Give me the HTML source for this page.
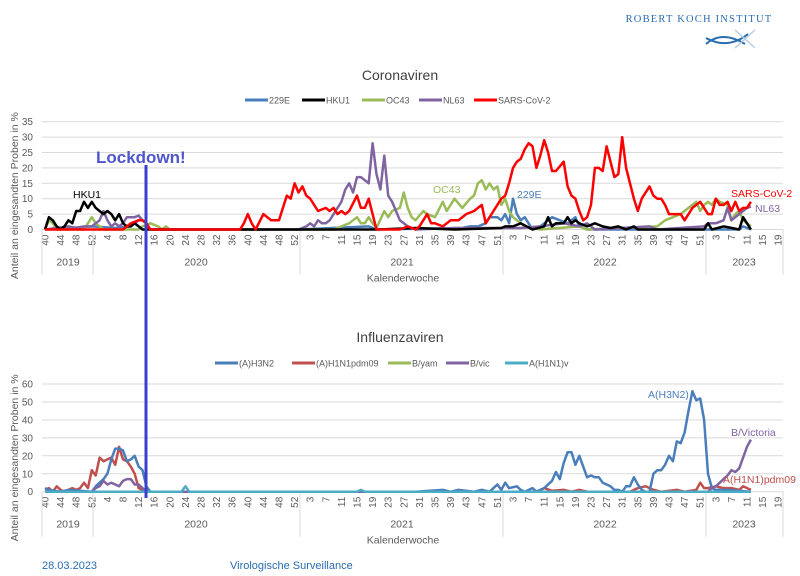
<!DOCTYPE html>
<html><head><meta charset="utf-8"><style>
html,body{margin:0;padding:0;background:#fff;}
svg{display:block;font-family:"Liberation Sans",sans-serif;}
</style></head><body>
<svg id="s" width="800" height="576" viewBox="0 0 800 576" xmlns="http://www.w3.org/2000/svg">
<text x="699" y="22" font-family="Liberation Serif,serif" font-size="10.5" fill="#2a6db0" text-anchor="middle" letter-spacing="1.2">ROBERT KOCH INSTITUT</text>
<path d="M706 44 Q722 30 745 44 M706 38 Q728 50 748 34" stroke="#2a6db0" stroke-width="2" fill="none"/>
<path d="M735 30 L755 48 M735 48 L755 30" stroke="#b8cde6" stroke-width="1.5"/>
<text x="400" y="80" font-size="14" fill="#404040" text-anchor="middle">Coronaviren</text>
<text x="400" y="342" font-size="14" fill="#404040" text-anchor="middle">Influenzaviren</text>
<g id="g"></g>
<text x="42" y="569" font-size="11" fill="#2a6db0">28.03.2023</text>
<text x="230" y="569" font-size="11" fill="#2a6db0">Virologische Surveillance</text>
</svg>
<script>
const NS="http://www.w3.org/2000/svg",G=document.getElementById('g');
function el(t,a,txt){const e=document.createElementNS(NS,t);for(const k in a)e.setAttribute(k,a[k]);if(txt!=null)e.textContent=txt;G.appendChild(e);return e;}
const off={2019:-40,2020:12,2021:65,2022:117,2023:169};
const X=i=>45+i*3.9;
const W=(y,w)=>off[y]+w;
function axes(y0,scale,max,step,yTickLbl,legY,legend){
  for(let v=0;v<=max;v+=step){const y=y0-v*scale;
    el('line',{x1:42,x2:783,y1:y,y2:y,stroke:'#d9d9d9','stroke-width':1});
    el('text',{x:33,y:y+3.5,'font-size':10,fill:'#595959','text-anchor':'end'},v);}
  const labs=[];
  [40,44,48,52].forEach(w=>labs.push(W(2019,w)));
  for(let w=4;w<=52;w+=4)labs.push([W(2020,w),w]);
  const L=[];[40,44,48,52].forEach(w=>L.push([W(2019,w),w]));
  for(let w=4;w<=52;w+=4)L.push([W(2020,w),w]);
  for(const yr of [2021,2022])for(let w=3;w<=51;w+=4)L.push([W(yr,w),w]);
  for(let w=3;w<=19;w+=4)L.push([W(2023,w),w]);
  L.forEach(([i,w])=>{const x=X(i)+3.5;el('text',{x:0,y:0,'font-size':10,fill:'#595959','text-anchor':'end',transform:`translate(${x},${y0+5}) rotate(-90)`},w);});
  [42,93,300,503,706,783].forEach(x=>el('line',{x1:x,x2:x,y1:y0,y2:y0+45,stroke:'#d9d9d9'}));
  [[68,'2019'],[196,'2020'],[402,'2021'],[605,'2022'],[744,'2023']].forEach(([x,t])=>el('text',{x:x,y:y0+36,'font-size':10.5,fill:'#595959','text-anchor':'middle'},t));
  el('text',{x:403,y:y0+52,'font-size':10.5,fill:'#595959','text-anchor':'middle'},'Kalenderwoche');
  el('text',{x:0,y:0,'font-size':10.5,fill:'#595959','text-anchor':'middle',transform:`translate(18,${y0-max*scale/2+20}) rotate(-90)`},'Anteil an eingesandten Proben in %');
  legend.forEach(([x,c,t])=>{el('line',{x1:x,x2:x+23,y1:legY,y2:legY,stroke:c,'stroke-width':3});el('text',{x:x+24,y:legY+3.5,'font-size':9,fill:'#595959'},t);});
}
function series(y0,scale,pts,c,w){
  let d='';pts.forEach(([y,wk,v],k)=>{d+=(k?'L':'M')+X(W(y,wk)).toFixed(1)+' '+(y0-v*scale).toFixed(1);});
  el('path',{d:d,stroke:c,'stroke-width':w||2.5,fill:'none','stroke-linejoin':'round'});
}
function P(y,arr){const r=[];for(let k=0;k<arr.length;k+=2)r.push([y,arr[k],arr[k+1]]);return r;}
// TOP
const T0=229.5,TS=3.08;
axes(T0,TS,35,5,1,100,[[245,'#4a7ebb','229E'],[302,'#000','HKU1'],[362,'#9bbb59','OC43'],[419,'#8064a2','NL63'],[474,'#ff0000','SARS-CoV-2']]);
const blue=[...P(2019,[40,0,46,0.5,52,1]),...P(2020,[6,0.5,10,1,12,3,13,3,14,2,15,0,53,0]),...P(2021,[18,1,20,0,42,0.5,44,1,46,1,48,2,49,4,51,4,52,3]),...P(2022,[1,5,2,2,3,10,4,5,5,3,6,4,7,2,8,0,10,1,12,3,13,4,15,3,17,2,19,4,20,1,22,0,52,0]),...P(2023,[1,0,9,0,10,1,12,0])];
const green=[...P(2019,[40,0,41,3,42,2,43,0,50,0,52,4]),...P(2020,[1,2,2,1,3,0,12,0,13,1,15,2,17,1,18,0,19,1,20,0,53,0]),...P(2021,[9,0,11,1,13,2,15,4,16,2,17,2,18,4,19,2,20,0.5,22,6,23,4,24,6,26,7,27,12,28,7,29,4,30,3,32,6,33,5,35,4,37,9,38,6,40,10,42,7,44,10,45,11,46,15,47,16,48,13,49,15,50,13,51,14,52,8]),...P(2022,[1,10,2,6,3,4,4,3,6,1,8,0.5,10,0,20,1,22,0,40,1,42,3,44,4,46,5,48,7,50,9,51,6,52,8]),...P(2023,[1,9,2,8,3,10,4,9,6,8,7,3,8,5,9,6,10,3,11,2,12,1])];
const purple=[...P(2019,[40,0,46,1,48,0.5,50,1,52,1]),...P(2020,[2,3,3,6,4,3,5,1,6,2,7,1,8,2,9,4,10,4,11,4,12,4.5,13,3,14,2,15,0,53,0]),...P(2021,[2,1,3,2,4,1,5,3,6,2,7,2,8,3,9,5,10,7,11,9,12,13,13,15,14,12,15,17,16,17,17,16,18,15,19,28,20,18,21,13,22,24,23,11,24,9,25,6,26,3,27,2,28,1,30,0,40,0.5,52,0.5]),...P(2022,[5,0.5,10,1,16,2,20,1,22,2,24,0,38,1,40,0,52,1]),...P(2023,[1,2,3,2,5,3,6,7,7,3,8,4,9,5,10,6,11,7,12,7.5])];
const black=[...P(2019,[40,0,41,4,42,3,43,1,44,0,45,1,46,3,47,2,48,6,49,6,50,9,51,7,52,9]),...P(2020,[1,7,2,6,3,5,4,6,5,5,6,3,7,5,8,2,9,1,10,1,11,2,12,1,13,0,53,0]),...P(2021,[20,0,30,0.5,40,0,52,0.5]),...P(2022,[1,1,3,1,5,2,8,0,11,1,12,4,13,1,14,2,16,2,17,4,18,2,19,3,20,2,22,1,24,2,26,1,28,0.5,30,1,32,0,34,1,35,0,52,0]),...P(2023,[1,2,2,0,5,1,9,0,10,4,11,2,12,0])];
const red=[...P(2019,[40,0,52,0]),...P(2020,[8,0,10,2,12,3,13,3,14,2,15,0,38,0,39,2,40,5,41,2,42,0,44,5,46,3,48,3,50,11,51,10,52,15,53,12]),...P(2021,[1,14,2,11,3,10,5,6,7,7,8,6,9,7,10,5,11,6,12,5,13,6,15,11,16,7,17,7,18,10,19,5,20,0,26,0,28,1,30,0,31,1,33,5,34,2,35,2,37,1,39,3,41,3,43,5,45,6,47,8,48,2,50,6,52,10]),...P(2022,[1,11,2,15,3,20,4,22,5,23,6,26,7,28,8,27,9,20,10,24,11,29,12,25,13,19,14,19,16,22,17,14,18,11,19,10,20,6,21,3,22,4,23,8,24,20,25,20,26,19,27,27,28,22,29,17,30,18,31,30,32,20,33,15,34,10,35,6,36,10,38,14,39,11,40,10,41,10,42,8,43,5,45,5,46,5,47,3,49,7,51,9,52,7]),...P(2023,[1,5,2,5,3,10,4,8,5,8,6,9,7,6,8,9,9,6,10,7,11,7,12,9])];
series(T0,TS,blue,'#4a7ebb');series(T0,TS,green,'#9bbb59');series(T0,TS,purple,'#8064a2');series(T0,TS,black,'#000');series(T0,TS,red,'#ff0000');
el('text',{x:73,y:198,'font-size':10.5,fill:'#000'},'HKU1');
el('text',{x:433,y:193,'font-size':10.5,fill:'#9bbb59'},'OC43');
el('text',{x:517,y:198,'font-size':10.5,fill:'#4a7ebb'},'229E');
el('text',{x:731,y:197,'font-size':10.5,fill:'#ff0000'},'SARS-CoV-2');
el('text',{x:755,y:212,'font-size':10.5,fill:'#8064a2'},'NL63');
// BOTTOM
const B0=491.7,BS=1.795;
axes(B0,BS,60,10,1,363,[[215,'#4a7ebb','(A)H3N2'],[292,'#c0504d','(A)H1N1pdm09'],[388,'#9bbb59','B/yam'],[446,'#8064a2','B/vic'],[505,'#4bacc6','A(H1N1)v']]);
const h3=[...P(2019,[40,2,41,1,44,0,46,1,52,0]),...P(2020,[1,3,2,5,3,7,4,10,5,18,6,24,7,24,8,23,9,17,10,18,11,20,12,14,13,12,14,3,15,0,53,0]),...P(2021,[30,0,37,1,39,0,41,1,45,0,47,1,49,0,50,2,51,4]),...P(2022,[52,0]).slice(0,0),...P(2021,[52,1]),...P(2022,[1,5,2,2,4,3,5,1,6,0,8,2,9,0,11,2,12,4,13,6,14,11,15,7,16,16,17,22,18,22,19,15,20,20,21,14,22,8,23,9,24,8,25,8,26,5,27,4,28,3,29,1,30,1,31,0,32,3,33,3,34,8,35,4,36,1,37,0,38,0,39,10,40,12,41,12,42,15,43,20,44,17,45,28,46,27,47,33,48,45,49,56,50,51,51,52,52,40]),...P(2023,[1,10,2,2,3,1,6,1,12,0])];
const h1=[...P(2019,[40,1,41,2,42,0,43,3,44,1,45,0,46,1,47,2,48,1,49,2,50,5,51,2,52,12]),...P(2020,[1,9,2,19,3,17,4,18,5,19,6,15,7,25,8,18,9,17,10,14,11,10,12,2,13,1,14,0,53,0]),...P(2022,[9,0,11,2,13,0.5,16,1,18,0,20,1,22,0,33,0,35,2,37,3,39,1,41,0,45,1,47,0,50,1,51,5,52,2]),...P(2023,[1,2,3,3,5,2,7,2,9,1,10,3,12,1])];
const bv=[...P(2019,[40,0,52,0]),...P(2020,[1,2,2,3,3,6,4,4,5,5,6,4,7,3,8,6,9,7,10,7,11,4,12,4,13,2,14,0,53,0]),...P(2022,[52,0]),...P(2023,[1,0,2,2,3,3,4,5,5,7,6,9,7,12,8,11,9,13,10,19,11,25,12,29])];
const teal=[...P(2019,[40,0]),...P(2020,[23,0,24,3,25,0,53,0]),...P(2021,[15,0,16,1,17,0,52,0]),...P(2023,[12,0])];
series(B0,BS,h1,'#c0504d');series(B0,BS,h3,'#4a7ebb');series(B0,BS,bv,'#8064a2');series(B0,BS,teal,'#4bacc6');
el('text',{x:648,y:398,'font-size':10.5,fill:'#4a7ebb'},'A(H3N2)');
el('text',{x:731,y:436,'font-size':10.5,fill:'#8064a2'},'B/Victoria');
el('text',{x:723,y:483,'font-size':10.5,fill:'#c0504d'},'A(H1N1)pdm09');
// Lockdown
el('line',{x1:146,x2:146,y1:165,y2:498,stroke:'#3b3fcc','stroke-width':3});
el('text',{x:96,y:163,'font-size':17,'font-weight':'bold',fill:'#4f55cc'},'Lockdown!');
</script>
</body></html>
